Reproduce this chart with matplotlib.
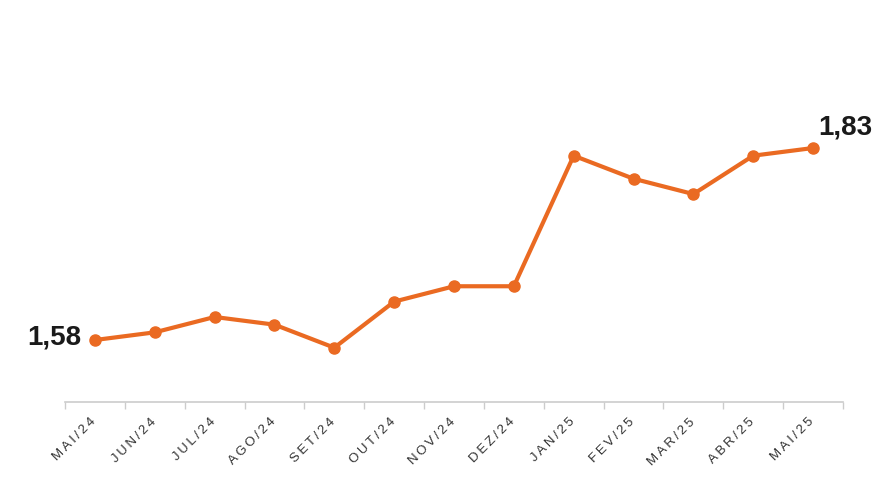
import matplotlib.pyplot as plt
import matplotlib.transforms as mtransforms
import numpy as np

meses = ['MAI/24', 'JUN/24', 'JUL/24', 'AGO/24', 'SET/24', 'OUT/24', 'NOV/24',
         'DEZ/24', 'JAN/25', 'FEV/25', 'MAR/25', 'ABR/25', 'MAI/25']
valores = [1.58, 1.59, 1.61, 1.60, 1.57, 1.63, 1.65,
           1.65, 1.82, 1.79, 1.77, 1.82, 1.83]

cor = '#EA6A22'
plt.rcParams['font.family'] = ['Liberation Sans', 'DejaVu Sans']

fig = plt.figure(figsize=(8.81, 4.86), dpi=100)
ax = fig.add_axes([65 / 881, 1 - 402 / 486, (843 - 65) / 881, 402 / 486])

x = np.arange(len(meses))
ax.plot(x, valores, color=cor, linewidth=3, marker='o', markersize=8,
        solid_capstyle='round', solid_joinstyle='round')

ax.set_xlim(-0.5, len(meses) - 0.5)
ax.set_ylim(1.4993, 2.0227)

# rotulos do primeiro e ultimo ponto
ax.annotate('1,58', (x[0], valores[0]), xytext=(-9.5, 2), textcoords='offset points',
            ha='right', va='center', fontsize=20, fontweight='bold', color='#1a1a1a')
ax.annotate('1,83', (x[-1], valores[-1]), xytext=(3.5, 15), textcoords='offset points',
            ha='left', va='center', fontsize=20, fontweight='bold', color='#1a1a1a')

# eixo x: tracos nas divisas, rotulos com espacamento entre letras
ax.set_xticks(np.arange(len(meses) + 1) - 0.5)
ax.set_xticklabels([])
ax.tick_params(axis='x', length=5, color='#cccccc', width=1)
ax.set_yticks([])

trans = ax.get_xaxis_transform() + mtransforms.ScaledTranslation(-5 / 100, -14 / 100, fig.dpi_scale_trans)
for xi, m in zip(x, meses):
    ax.text(xi, 0, '\u2009'.join(m), transform=trans, rotation=45, ha='right', va='top',
            rotation_mode='anchor', fontsize=9.5, color='#333333')

for lado in ['top', 'right', 'left']:
    ax.spines[lado].set_visible(False)
ax.spines['bottom'].set_color('#cccccc')
ax.spines['bottom'].set_linewidth(1.2)

fig.savefig('out.png', dpi=100)
